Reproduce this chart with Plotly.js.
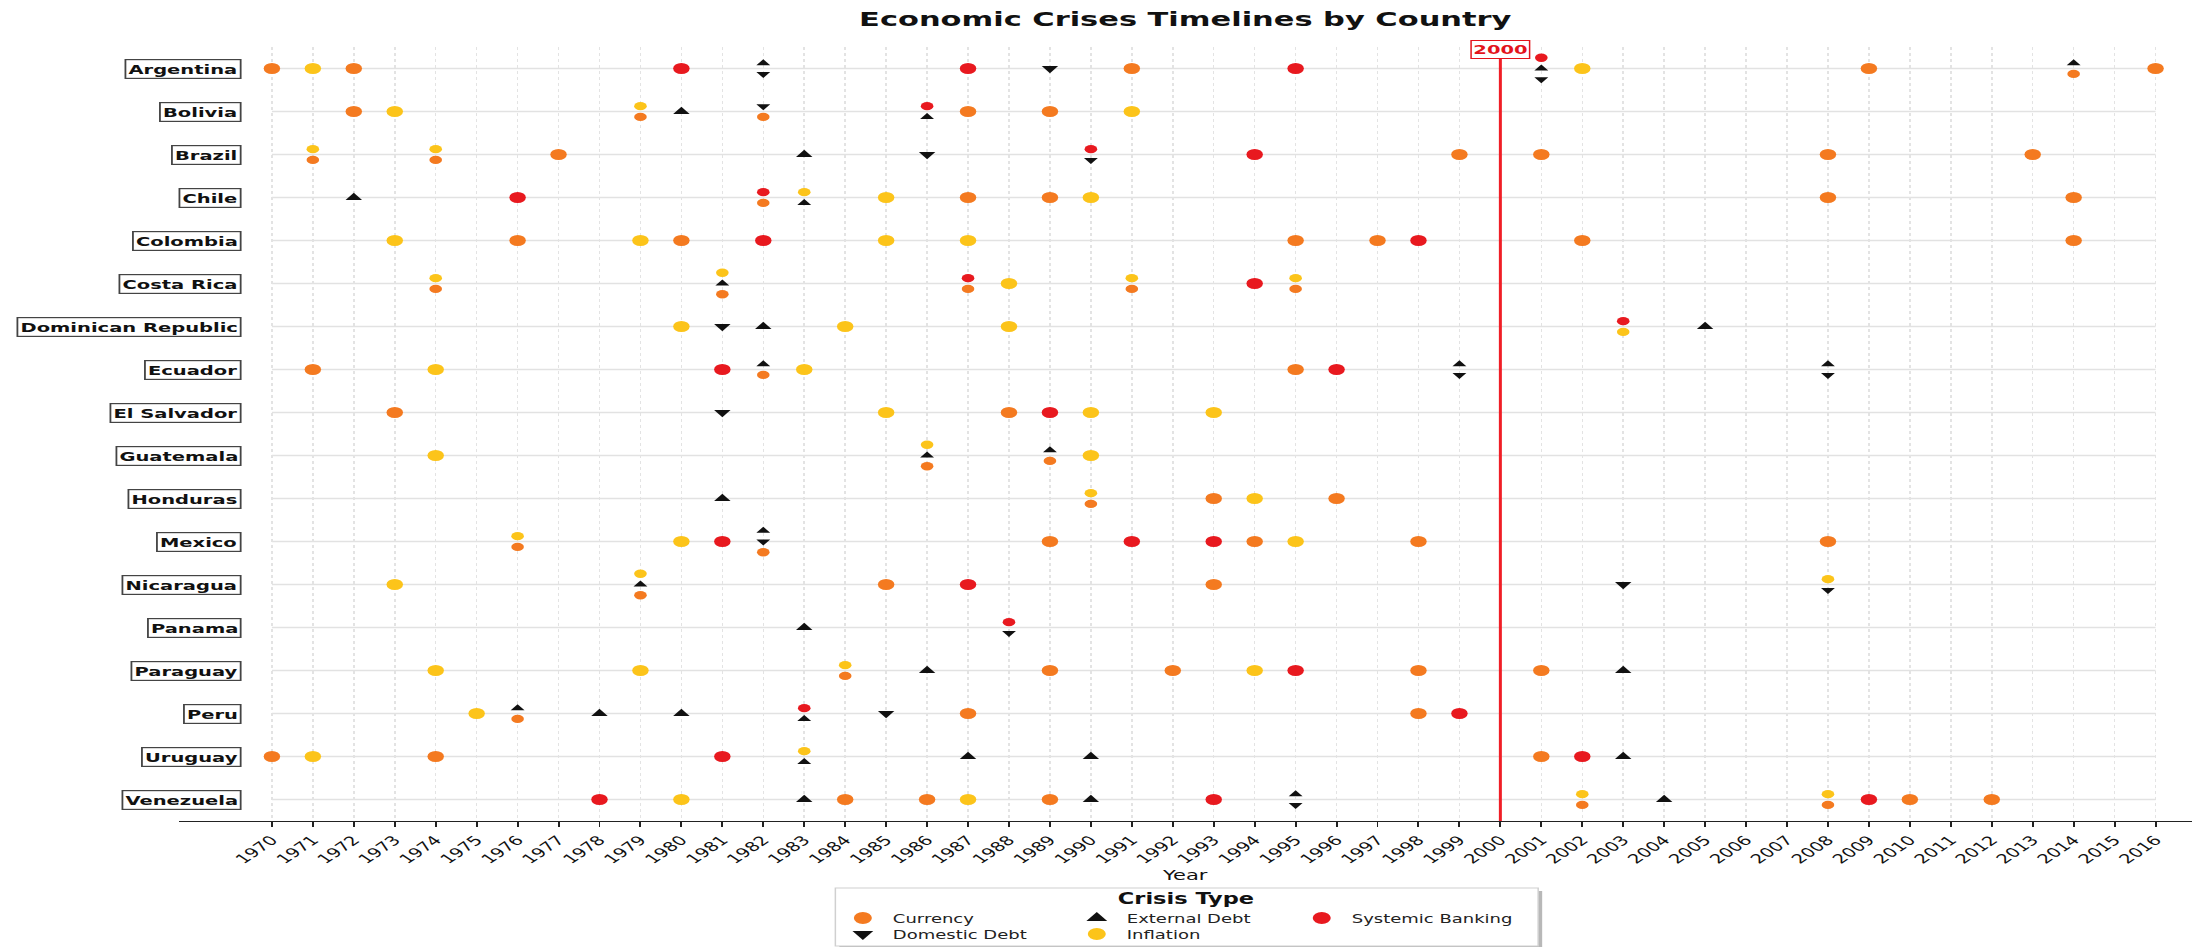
<!DOCTYPE html>
<html><head><meta charset="utf-8">
<script src="https://cdn.plot.ly/plotly-3.0.1.min.js"></script>
<style>
html,body{margin:0;padding:0;background:#fff;overflow:hidden;}
#wrap{width:2192px;height:947px;overflow:hidden;position:relative;background:#fff;}
#chart{width:1461px;height:947px;transform:scaleX(1.500342);transform-origin:0 0;}
</style></head><body><div id="wrap"><div id="chart"></div></div>
<script>
const countries = ['Argentina','Bolivia','Brazil','Chile','Colombia','Costa Rica','Dominican Republic','Ecuador','El Salvador','Guatemala','Honduras','Mexico','Nicaragua','Panama','Paraguay','Peru','Uruguay','Venezuela'];

const yearTicks = [1970,1971,1972,1973,1974,1975,1976,1977,1978,1979,1980,1981,1982,1983,1984,1985,1986,1987,1988,1989,1990,1991,1992,1993,1994,1995,1996,1997,1998,1999,2000,2001,2002,2003,2004,2005,2006,2007,2008,2009,2010,2011,2012,2013,2014,2015,2016];

// one list of crisis years per country, in the order of `countries`
const currency = [
  [1970,1972,1991,2009,2014,2016],
  [1972,1979,1982,1987,1989],
  [1971,1974,1977,1999,2001,2008,2013],
  [1982,1987,1989,2008,2014],
  [1976,1980,1995,1997,2002,2014],
  [1974,1981,1987,1991,1995],
  [],
  [1971,1982,1995],
  [1973,1988],
  [1986,1989],
  [1990,1993,1996],
  [1976,1982,1989,1994,1998,2008],
  [1979,1985,1993],
  [],
  [1984,1989,1992,1998,2001],
  [1976,1987,1998],
  [1970,1974,2001],
  [1984,1986,1989,2002,2008,2010,2012]
];
const domesticDebt = [
  [1982,1989,2001],
  [1982],
  [1986,1990],
  [],
  [],
  [],
  [1981],
  [1999,2008],
  [1981],
  [],
  [],
  [1982],
  [2003,2008],
  [1988],
  [],
  [1985],
  [],
  [1995]
];
const externalDebt = [
  [1982,2001,2014],
  [1980,1986],
  [1983],
  [1972,1983],
  [],
  [1981],
  [1982,2005],
  [1982,1999,2008],
  [],
  [1986,1989],
  [1981],
  [1982],
  [1979],
  [1983],
  [1986,2003],
  [1976,1978,1980,1983],
  [1983,1987,1990,2003],
  [1983,1990,1995,2004]
];
const inflation = [
  [1971,2002],
  [1973,1979,1991],
  [1971,1974],
  [1983,1985,1990],
  [1973,1979,1985,1987],
  [1974,1981,1988,1991,1995],
  [1980,1984,1988,2003],
  [1974,1983],
  [1985,1990,1993],
  [1974,1986,1990],
  [1990,1994],
  [1976,1980,1995],
  [1973,1979,2008],
  [],
  [1974,1979,1984,1994],
  [1975],
  [1971,1983],
  [1980,1987,2002,2008]
];
const systemicBanking = [
  [1980,1987,1995,2001],
  [1986],
  [1990,1994],
  [1976,1982],
  [1982,1998],
  [1987,1994],
  [2003],
  [1981,1996],
  [1989],
  [],
  [],
  [1981,1991,1993],
  [1987],
  [1988],
  [1995],
  [1983,1999],
  [1981,2002],
  [1978,1993,2009]
];
const crisisTypes = ['Currency','Domestic Debt','External Debt','Inflation','Systemic Banking'];
const crisisYears = [currency, domesticDebt, externalDebt, inflation, systemicBanking];
const highlightYear = 2000;

// ---------- geometry / styles ----------
const FONT = 'DejaVu Sans, Liberation Sans, sans-serif';
const W = 1461, H = 947, S = 2192 / W;
const M = {l: 178 / S, r: 0, t: 47, b: 126};
const plotW = W - M.l - M.r, plotH = H - M.t - M.b;
const pxU = u => (u - M.l) / plotW;          // unstretched px -> paper x
const pxF = u => pxU(u / S);                  // reference px -> paper x
const py = v => (H - M.b - v) / plotH;        // px -> paper y

const colors = ['#f47a20', '#111111', '#111111', '#fcc41a', '#e8191f'];
const symbols = ['circle', 'triangle-down', 'triangle-up', 'circle', 'circle'];
const baseSize = [11, 9.5, 9.5, 11, 11];
const stackSize = [8.4, 8, 8, 8.4, 8.4];
const STEP = 0.25;

// group simultaneous events of one country in one year
const stacks = {};
crisisYears.forEach((arr, t) => arr.forEach((ys, c) => ys.forEach(yr => {
  const k = c + '|' + yr;
  (stacks[k] = stacks[k] || []).push(t);
})));

const legendCol = [0, 0, 1, 1, 2], legendRow = [0, 1, 0, 1, 0];
const colX = [864, 1098, 1323], rowY = [918, 934];

const traces = crisisTypes.map((name, t) => {
  const x = [], y = [], size = [];
  crisisYears[t].forEach((ys, c) => ys.forEach(yr => {
    const grp = stacks[c + '|' + yr].slice().sort((a, b) => a - b);
    const n = grp.length, i = grp.indexOf(t);
    x.push(yr);
    y.push(c + ((n - 1) / 2 - i) * STEP);
    size.push(n > 1 ? stackSize[t] : baseSize[t]);
  }));
  return {
    type: 'scatter', mode: 'markers', name, x, y,
    legend: t === 0 ? 'legend' : 'legend' + (t + 1),
    marker: {symbol: symbols[t], color: colors[t], size, opacity: 1, line: {width: 0}},
    hoverinfo: 'skip', cliponaxis: false
  };
});

const shapes = [];
countries.forEach((c, i) => shapes.push({
  type: 'line', xref: 'x', yref: 'y', layer: 'below',
  x0: yearTicks[0], x1: yearTicks[yearTicks.length - 1], y0: i, y1: i,
  line: {color: '#e2e2e2', width: 1.4}
}));
shapes.push({type: 'line', xref: 'x', yref: 'paper', x0: highlightYear, x1: highlightYear, y0: 0, y1: 1,
  layer: 'above', line: {color: '#f01e26', width: 2}});
// legend frame with shadow
shapes.push({type: 'rect', xref: 'paper', yref: 'paper', x0: pxF(839), x1: pxF(1542), y0: py(950), y1: py(891),
  line: {width: 0}, fillcolor: '#b8b8b8', layer: 'above'});
shapes.push({type: 'rect', xref: 'paper', yref: 'paper', x0: pxF(835), x1: pxF(1538), y0: py(946), y1: py(888),
  line: {color: '#d0d0d0', width: 1}, fillcolor: '#ffffff', layer: 'above'});

const annotations = countries.map((c, i) => ({
  xref: 'x', yref: 'y', x: yearTicks[0], y: i, xanchor: 'right', yanchor: 'middle',
  xshift: -20.5, text: '<b>' + c + '</b>', showarrow: false,
  font: {family: FONT, size: 13, color: '#111'},
  bgcolor: '#ffffff', bordercolor: '#444', borderwidth: 1.2, borderpad: 1.4
}));
annotations.push({
  xref: 'x', yref: 'paper', x: highlightYear, y: 1, yshift: -2.5, xanchor: 'center', yanchor: 'middle',
  text: '<b>' + highlightYear + '</b>', showarrow: false,
  font: {family: FONT, size: 13, color: '#e3141c'},
  bgcolor: '#ffffff', bordercolor: '#e3141c', borderwidth: 1, borderpad: 1
});
annotations.push({
  xref: 'paper', yref: 'paper', x: pxF(1186), y: py(899), xanchor: 'center', yanchor: 'middle',
  text: '<b>Crisis Type</b>', showarrow: false, font: {family: FONT, size: 15, color: '#111'}
});

const layout = {
  width: W, height: H,
  margin: {l: M.l, r: M.r, t: M.t, b: M.b, autoexpand: false},
  paper_bgcolor: '#ffffff', plot_bgcolor: '#ffffff',
  font: {family: FONT, color: '#222'},
  title: {text: '<b>Economic Crises Timelines by Country</b>', font: {family: FONT, size: 20.3, color: '#111'},
    x: 0.5, xref: 'paper', xanchor: 'center', y: 1 - 19 / H, yref: 'container', yanchor: 'middle'},
  xaxis: {
    range: [1967.72, 2016.89], tickvals: yearTicks, ticktext: yearTicks.map(String), tickangle: -45,
    tickfont: {family: FONT, size: 13, color: '#111'},
    showgrid: true, gridcolor: '#e3e3e3', griddash: '3px,3px', gridwidth: 1,
    showline: true, linecolor: '#222', linewidth: 1.4, ticks: 'outside', ticklen: 5, tickwidth: 1.3, tickcolor: '#222',
    zeroline: false, fixedrange: true,
    title: {text: 'Year', font: {family: FONT, size: 14, color: '#111'}, standoff: 0}
  },
  yaxis: {range: [17.5, -0.5], showgrid: false, zeroline: false, showline: false, showticklabels: false, ticks: '', fixedrange: true},
  shapes, annotations, showlegend: true
};
crisisTypes.forEach((name, t) => {
  const key = t === 0 ? 'legend' : 'legend' + (t + 1);
  layout[key] = {
    x: pxU(colX[legendCol[t]] / S - 21), y: py(rowY[legendRow[t]]), xanchor: 'left', yanchor: 'middle',
    bgcolor: 'rgba(0,0,0,0)', borderwidth: 0, itemsizing: 'constant',
    font: {family: FONT, size: 12, color: '#222'}
  };
});

Plotly.newPlot('chart', traces, layout, {displayModeBar: false, responsive: false, staticPlot: true});
</script></body></html>
